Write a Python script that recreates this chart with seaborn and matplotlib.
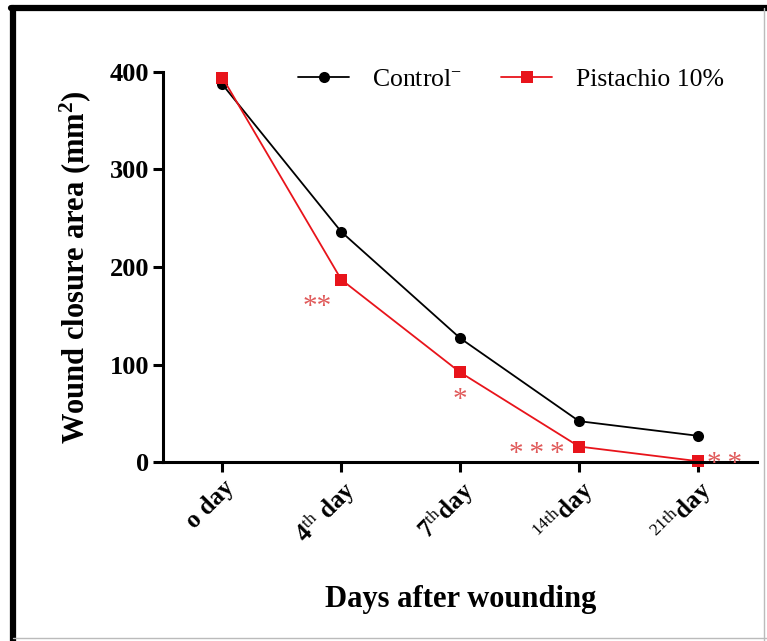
import matplotlib
matplotlib.use("Agg")
import matplotlib.pyplot as plt
import seaborn as sns
import pandas as pd
from matplotlib.lines import Line2D

days = ["o day", "4$^{\\mathrm{th}}$ day", "7$^{\\mathrm{th}}$day", "$^{\\mathrm{14th}}$day", "$^{\\mathrm{21th}}$day"]
control = [387, 236, 127, 42, 27]
pistachio = [394, 187, 92, 16, 1]
groups = ["Control$^{\\mathrm{-}}$", "Pistachio 10%"]
stars = ["", "**", "*", "***", "**"]

sns.set_theme(style="white")
plt.rcParams["font.family"] = ["Liberation Serif", "DejaVu Serif"]
plt.rcParams["mathtext.fontset"] = "custom"
plt.rcParams["mathtext.rm"] = "Liberation Serif"
plt.rcParams["mathtext.bf"] = "Liberation Serif:bold"
plt.rcParams["mathtext.it"] = "Liberation Serif:italic"
for k in ["text.color", "axes.labelcolor", "xtick.color", "ytick.color"]:
    plt.rcParams[k] = "black"

df = pd.DataFrame({
    "x": list(range(len(days))) * 2,
    "area": control + pistachio,
    "group": [groups[0]] * len(days) + [groups[1]] * len(days),
})

fig = plt.figure(figsize=(7.67, 6.41), dpi=100)
ax = fig.add_axes([0.2125, 0.279, 0.775, 0.609])

palette = {groups[0]: "black", groups[1]: "#e8141b"}
sns.lineplot(data=df, x="x", y="area", hue="group", style="group",
             markers={groups[0]: "o", groups[1]: "s"}, dashes=False,
             palette=palette, markersize=8, markeredgewidth=0,
             linewidth=1.3, ax=ax, legend=True)
for ln in ax.lines:
    ln.set_clip_on(False)

ax.set_xlim(-0.5, 4.5)
ax.set_ylim(0, 400)
ax.set_yticks([0, 100, 200, 300, 400])
ax.set_xticks(range(len(days)))
ax.set_xticklabels(days, rotation=45, ha="right", rotation_mode="anchor",
                   fontsize=18, fontweight="bold")
for lbl in ax.get_yticklabels():
    lbl.set_fontweight("bold")
    lbl.set_fontsize(19)

for side in ["top", "right"]:
    ax.spines[side].set_visible(False)
for side in ["left", "bottom"]:
    ax.spines[side].set_linewidth(2.2)
    ax.spines[side].set_color("black")
ax.tick_params(axis="both", length=7, width=2.2, color="black", direction="out",
               left=True, bottom=True, pad=3)

ax.set_xlabel("Days after wounding", fontsize=22, fontweight="bold", labelpad=26)
ax.set_ylabel("Wound closure area (mm$^{\\mathbf{2}}$)", fontsize=22, fontweight="bold", labelpad=12)

# significance stars
star_col = "#e05a5a"
offsets = [(0, 0, "center"), (-0.08, -28, "right"), (0, -28, "center"), (-0.12, -8, "right"), (0.08, -3, "left")]
for i, s in enumerate(stars):
    if s:
        dx, dy, ha = offsets[i]
        txt = "\u2009".join(s) if i >= 3 else s
        ax.text(i + dx, pistachio[i] + dy, txt, color=star_col, fontsize=21,
                ha=ha, va="center", family=["Liberation Serif", "DejaVu Serif"])

leg = ax.legend(loc="upper center", bbox_to_anchor=(0.585, 1.07), ncol=2, frameon=False,
                fontsize=18.5, handlelength=2.0, columnspacing=1.5, handletextpad=0.9)

# outer frame
fig.add_artist(Line2D([0.017, 0.017], [0.0, 0.988], transform=fig.transFigure, color="black", lw=4.5))
fig.add_artist(Line2D([0.014, 1.0], [0.988, 0.988], transform=fig.transFigure, color="black", lw=4.5))
fig.add_artist(Line2D([0.996, 0.996], [0.0, 0.988], transform=fig.transFigure, color="#bbbbbb", lw=1))
fig.add_artist(Line2D([0.017, 1.0], [0.004, 0.004], transform=fig.transFigure, color="#bbbbbb", lw=1))

fig.savefig("out.png", dpi=100)
